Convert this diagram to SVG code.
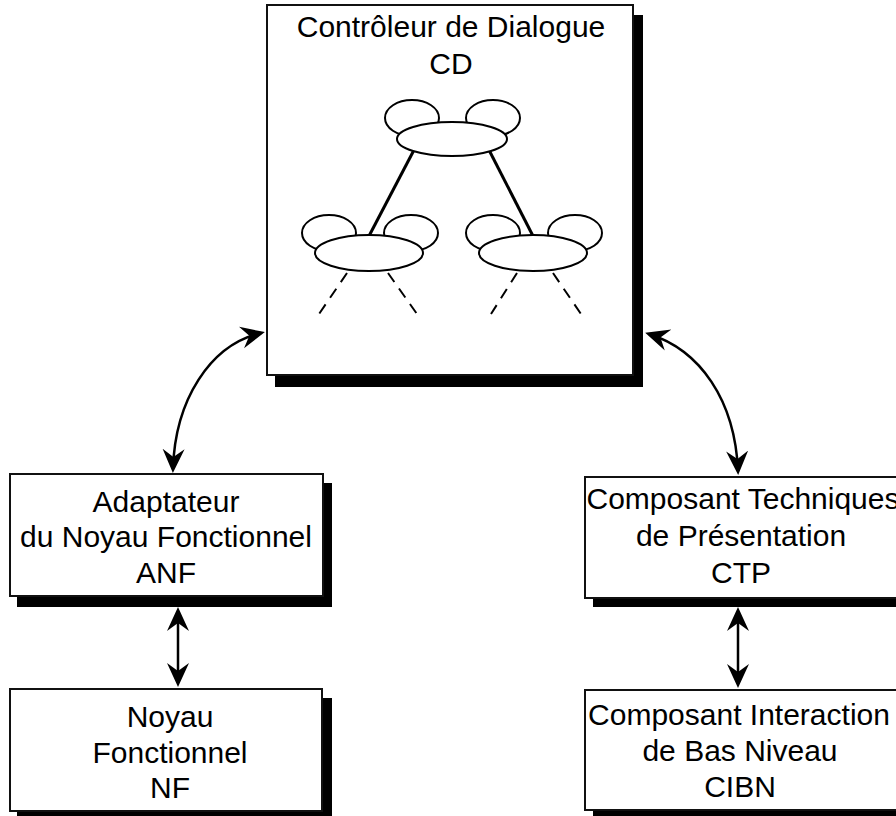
<svg xmlns="http://www.w3.org/2000/svg" width="896" height="816" viewBox="0 0 896 816">
<style>
.box{fill:#fff;stroke:#111;stroke-width:2}
.shadow{fill:#000}
.lbl{font-family:"Liberation Sans",Arial,sans-serif;font-size:30px;fill:#000;text-anchor:middle}
.ear,.body{fill:#fff;stroke:#000;stroke-width:2}
.edge{stroke:#000;stroke-width:3;fill:none}
.dash{stroke:#000;stroke-width:2;stroke-dasharray:11 8;fill:none}
.conn{stroke:#000;stroke-width:2.5;fill:none;marker-start:url(#ah);marker-end:url(#ah)}
</style>
<defs>
<marker id="ah" viewBox="0 0 24 24" refX="20" refY="12" markerWidth="24" markerHeight="24" markerUnits="userSpaceOnUse" orient="auto-start-reverse">
<path d="M24,12 L0,1 L8,12 L0,23 Z" fill="#000"/>
</marker>
</defs>
<rect width="896" height="816" fill="#fff"/>

<g id="CD">
<rect class="shadow" x="275" y="15" width="368" height="372"/>
<rect class="box" x="267" y="5" width="366" height="370"/>
<text class="lbl" x="451" y="37">Contrôleur de Dialogue</text>
<text class="lbl" x="451" y="74">CD</text>
<g id="tree">
<line class="edge" x1="414" y1="150" x2="369" y2="236"/>
<line class="edge" x1="489" y1="150" x2="533" y2="236"/>
<line class="dash" x1="347" y1="273" x2="319" y2="314"/>
<line class="dash" x1="388" y1="273" x2="417" y2="314"/>
<line class="dash" x1="517" y1="273" x2="491" y2="314"/>
<line class="dash" x1="553" y1="273" x2="581" y2="314"/>
<g id="tnode-top">
<ellipse class="ear" cx="412" cy="118" rx="27" ry="18"/>
<ellipse class="ear" cx="493" cy="118" rx="27" ry="18"/>
<ellipse class="body" cx="452" cy="139" rx="55" ry="17"/>
</g>
<g id="tnode-left">
<ellipse class="ear" cx="329" cy="233" rx="27" ry="18"/>
<ellipse class="ear" cx="411" cy="233" rx="27" ry="18"/>
<ellipse class="body" cx="369" cy="253" rx="54" ry="18"/>
</g>
<g id="tnode-right">
<ellipse class="ear" cx="493" cy="233" rx="27" ry="18"/>
<ellipse class="ear" cx="575" cy="233" rx="27" ry="18"/>
<ellipse class="body" cx="533" cy="253" rx="54" ry="18"/>
</g>
</g>
</g>

<g id="ANF">
<rect class="shadow" x="17" y="483" width="315" height="124"/>
<rect class="box" x="10" y="474" width="313" height="122"/>
<text class="lbl" x="166" y="512">Adaptateur</text>
<text class="lbl" x="166" y="547">du Noyau Fonctionnel</text>
<text class="lbl" x="166" y="583">ANF</text>
</g>

<g id="NF">
<rect class="shadow" x="17" y="698" width="315" height="124"/>
<rect class="box" x="10" y="689" width="312" height="122"/>
<text class="lbl" x="170" y="727">Noyau</text>
<text class="lbl" x="170" y="763">Fonctionnel</text>
<text class="lbl" x="170" y="798">NF</text>
</g>

<g id="CTP">
<rect class="shadow" x="593" y="486" width="317" height="121"/>
<rect class="box" x="585" y="477" width="320" height="121"/>
<text class="lbl" x="743" y="509">Composant Techniques</text>
<text class="lbl" x="741" y="546">de Présentation</text>
<text class="lbl" x="741" y="583">CTP</text>
</g>

<g id="CIBN">
<rect class="shadow" x="593" y="699" width="317" height="121"/>
<rect class="box" x="585" y="690" width="320" height="120"/>
<text class="lbl" x="739" y="725">Composant Interaction</text>
<text class="lbl" x="740" y="761">de Bas Niveau</text>
<text class="lbl" x="740" y="797">CIBN</text>
</g>

<g id="connectors">
<path class="conn" d="M261,333 C210,345 175,400 173,469"/>
<path class="conn" d="M649,334 C700,350 735,400 738,471"/>
<path class="conn" d="M178,611 L178,683"/>
<path class="conn" d="M738,611 L738,684"/>
</g>
</svg>
